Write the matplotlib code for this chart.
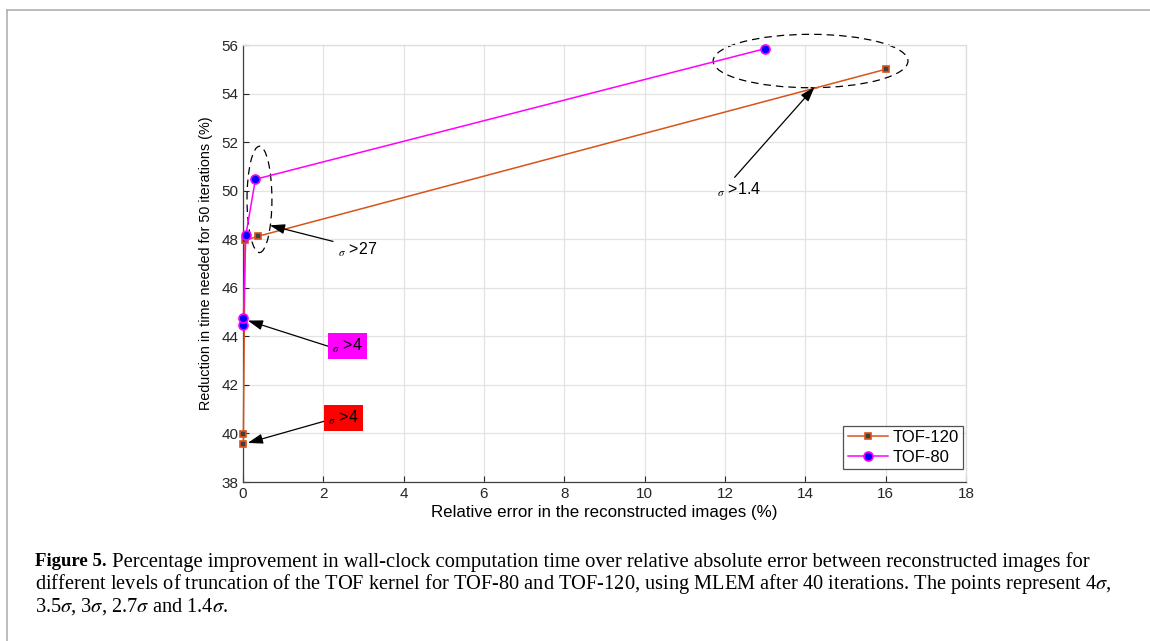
import matplotlib
matplotlib.use("Agg")
import matplotlib.pyplot as plt
from matplotlib.lines import Line2D
from matplotlib.patches import Ellipse

# data (x: relative error %, y: time reduction %)
tof120_err = [0.01, 0.01, 0.05, 0.37, 16.0]
tof120_red = [39.55, 39.97, 47.95, 48.12, 55.0]
tof80_err = [0.01, 0.01, 0.07, 0.31, 13.0]
tof80_red = [44.48, 44.76, 48.16, 50.47, 55.85]
series_names = ["TOF-120", "TOF-80"]
xticks = list(range(0, 19, 2))
yticks = list(range(38, 57, 2))

ORANGE = "#D95319"
SANS = ["Liberation Sans", "DejaVu Sans"]

plt.rcParams["font.family"] = SANS
plt.rcParams["mathtext.fontset"] = "stix"

fig = plt.figure(figsize=(11.5, 6.41), dpi=100)
ax = fig.add_axes([243 / 1150, 1 - 482 / 641, (966 - 243) / 1150, (482 - 45) / 641])

ax.plot(tof120_err, tof120_red, "-", color=ORANGE, lw=1.1, marker="s", ms=5,
        mfc="#404040", mec=ORANGE, mew=1.2, label=series_names[0], zorder=3, clip_on=False)
ax.plot(tof80_err, tof80_red, "-", color="magenta", lw=1.1, marker="o", ms=6.5,
        mfc="blue", mec="magenta", mew=1.2, label=series_names[1], zorder=4, clip_on=False)

ax.set_xlim(0, 18)
ax.set_ylim(38, 56)
ax.set_xticks(xticks)
ax.set_yticks(yticks)
ax.grid(True, color="#e3e3e3", lw=0.9)
ax.set_axisbelow(True)
ax.tick_params(direction="in", length=4, colors="#262626", labelsize=11, width=0.8)
for s in ("left", "bottom"):
    ax.spines[s].set_color("#404040")
    ax.spines[s].set_linewidth(0.9)
for s in ("top", "right"):
    ax.spines[s].set_color("#dcdcdc")
    ax.spines[s].set_linewidth(0.9)
ax.set_xlabel("Relative error in the reconstructed images (%)", fontsize=12.2, labelpad=3)
ax.set_ylabel("Reduction in time needed for 50 iterations (%)", fontsize=10.4, labelpad=6)

leg = ax.legend(loc="lower right", bbox_to_anchor=(1 - 3 / 723, 13 / 437), fontsize=12,
                frameon=True, fancybox=False, edgecolor="#262626", borderpad=0.25,
                handlelength=2.4, handletextpad=0.3, labelspacing=0.3, borderaxespad=0)
leg.get_frame().set_linewidth(0.9)

# dashed ellipses
ax.add_patch(Ellipse((14.13, 55.34), 4.85, 2.2, fill=False, ls=(0, (6, 4)), lw=0.9,
                     color="black", clip_on=False))
ax.add_patch(Ellipse((0.41, 49.64), 0.62, 4.38, fill=False, ls=(0, (6, 4)), lw=0.9,
                     color="black", clip_on=False))

arrow = dict(arrowstyle="-|>,head_length=0.9,head_width=0.3", color="black", lw=0.9,
             shrinkA=0, shrinkB=0)


def label(x, y, txt, head, tail, fc=None):
    ax.annotate("", xy=head, xytext=tail, arrowprops=arrow)
    box = None
    if fc:
        box = dict(boxstyle="square,pad=0.25", fc=fc, ec="none")
    ax.text(x, y, r"$_\sigma$ " + txt, fontsize=11.5, ha="left", va="center", bbox=box, zorder=5)


label(11.8, 50.02, ">1.4", (14.23, 54.27), (12.24, 50.55))
label(2.36, 47.55, ">27", (0.67, 48.57), (2.24, 47.91))
label(2.22, 43.6, ">4", (0.12, 44.65), (2.16, 43.57), fc="magenta")
label(2.12, 40.65, ">4", (0.12, 39.61), (2.06, 40.52), fc="red")

# page frame lines
fig.add_artist(Line2D([7 / 1150, 7 / 1150], [0, 1 - 10 / 641], color="#b0b0b0", lw=1.2))
fig.add_artist(Line2D([7 / 1150, 1], [1 - 10 / 641, 1 - 10 / 641], color="#b0b0b0", lw=1.2))

# caption
SERIF = ["Liberation Serif", "DejaVu Serif"]
cap = [
    "Percentage improvement in wall-clock computation time over relative absolute error between reconstructed images for",
    r"different levels of truncation of the TOF kernel for TOF-80 and TOF-120, using MLEM after 40 iterations. The points represent 4$\sigma$,",
    r"3.5$\sigma$, 3$\sigma$, 2.7$\sigma$ and 1.4$\sigma$.",
]
y0 = 1 - 562 / 641
dy = 22.5 / 641
fig.text(35 / 1150, y0, "Figure 5.", family=SERIF, fontsize=13.5, weight="bold", va="center")
fig.text(112 / 1150, y0, cap[0], family=SERIF, fontsize=14.9, va="center")
fig.text(35 / 1150, y0 - dy, cap[1], family=SERIF, fontsize=14.7, va="center")
fig.text(35 / 1150, y0 - 2 * dy, cap[2], family=SERIF, fontsize=14.7, va="center")

fig.savefig("out.png", dpi=100)
